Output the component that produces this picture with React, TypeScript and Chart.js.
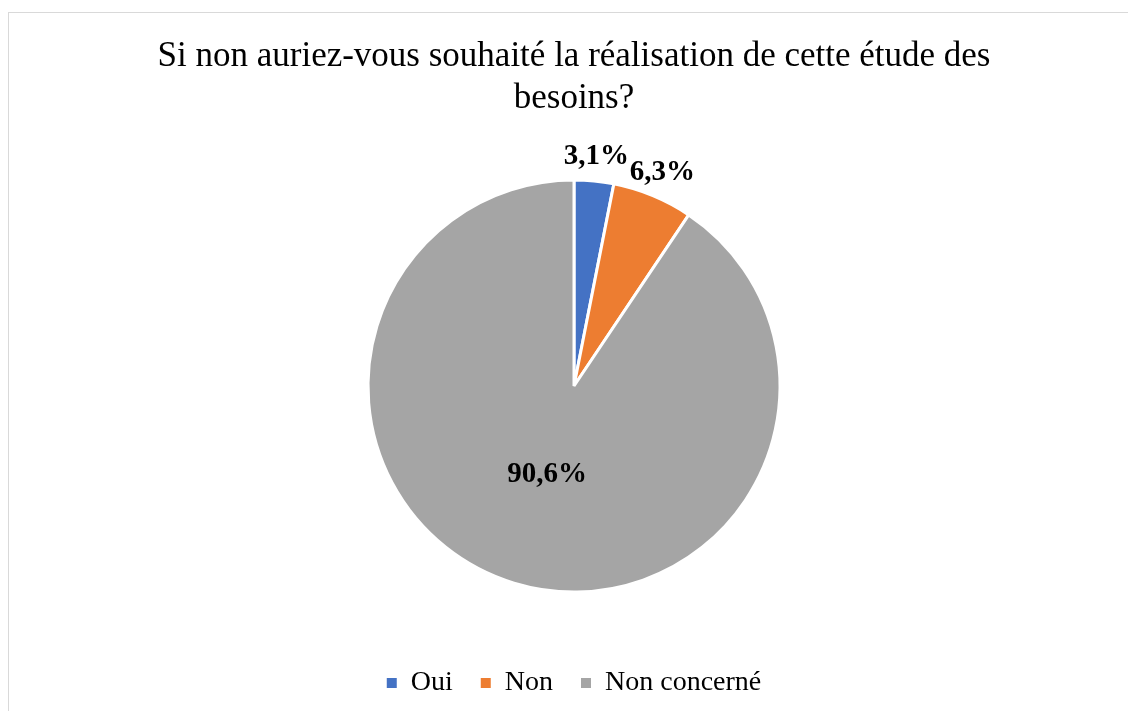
import React, { useEffect, useRef } from "react";
import { Chart, registerables } from "chart.js";

Chart.register(...registerables);

const titleLines = ["Si non auriez-vous souhaité la réalisation de cette étude des", "besoins?"];
const categories = ["Oui", "Non", "Non concerné"];
const percentages = [3.1, 6.3, 90.6];
const sliceColors = ["#4472C4", "#ED7D31", "#A5A5A5"];

const FONT = "'Liberation Serif', 'Times New Roman', serif";

const labelPlugin = {
  id: "sliceLabels",
  afterDatasetsDraw(chart: any) {
    const ctx = chart.ctx;
    const meta = chart.getDatasetMeta(0);
    ctx.save();
    ctx.font = `bold 29px ${FONT}`;
    ctx.fillStyle = "#000";
    ctx.textAlign = "center";
    ctx.textBaseline = "middle";
    meta.data.forEach((arc: any, i: number) => {
      const { x, y, startAngle, endAngle, outerRadius } = arc.getProps(
        ["x", "y", "startAngle", "endAngle", "outerRadius"],
        true
      );
      const mid = (startAngle + endAngle) / 2;
      const v = percentages[i];
      const f = v < 10 ? 1.12 : 0.45;
      const lx = x + Math.cos(mid) * outerRadius * f;
      const ly = y + Math.sin(mid) * outerRadius * f;
      ctx.fillText(v.toFixed(1).replace(".", ",") + "%", lx, ly);
    });
    ctx.restore();
  },
};

export default function App() {
  const ref = useRef<HTMLCanvasElement | null>(null);
  useEffect(() => {
    if (!ref.current) return;
    const chart = new Chart(ref.current, {
      type: "pie",
      data: {
        labels: categories,
        datasets: [
          {
            data: percentages,
            backgroundColor: sliceColors,
            borderColor: "#ffffff",
            borderWidth: 3,
            hoverOffset: 0,
          },
        ],
      },
      options: {
        responsive: false,
        animation: false,
        radius: 206,
        layout: { padding: { top: 0, bottom: 6, left: 0, right: 0 } },
        plugins: {
          title: {
            display: true,
            text: titleLines,
            color: "#000",
            font: { family: FONT, size: 35, weight: "normal", lineHeight: 1.2 },
            padding: { top: 23, bottom: 11 },
          },
          legend: {
            position: "bottom",
            labels: {
              color: "#000",
              font: { family: FONT, size: 28 },
              boxWidth: 10,
              boxHeight: 10,
              padding: 28,
              generateLabels(c: any) {
                const items = Chart.overrides.pie.plugins.legend.labels.generateLabels(c);
                return items.map((it: any) => ({ ...it, lineWidth: 0, strokeStyle: "transparent" }));
              },
            },
          },
          tooltip: { enabled: false },
        },
      } as any,
      plugins: [labelPlugin],
    });
    return () => chart.destroy();
  }, []);
  return (
    <div
      style={{
        position: "absolute",
        left: 8,
        top: 12,
        width: 1130,
        height: 700,
        border: "1px solid #d9d9d9",
        background: "#fff",
      }}
    >
      <canvas ref={ref} width={1130} height={700} style={{ display: "block" }} />
    </div>
  );
}
